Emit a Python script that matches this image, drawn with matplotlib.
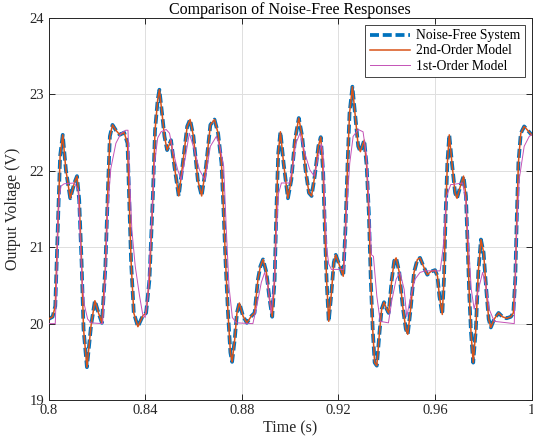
import matplotlib
matplotlib.use("Agg")
import matplotlib.pyplot as plt

# Noise-free system response (the 2nd-order model sits on top of it)
t_sys = [0.8000, 0.8017, 0.8028, 0.8038, 0.8048, 0.8059, 0.8072, 0.8090, 0.8107, 0.8118,
         0.8127, 0.8137, 0.8145, 0.8159, 0.8176, 0.8192, 0.8207, 0.8221, 0.8235, 0.8245,
         0.8254, 0.8265, 0.8279, 0.8295, 0.8313, 0.8327, 0.8336, 0.8342, 0.8353, 0.8370,
         0.8390, 0.8404, 0.8418, 0.8432, 0.8441, 0.8452, 0.8459, 0.8470, 0.8480, 0.8491,
         0.8507, 0.8521, 0.8539, 0.8556, 0.8574, 0.8586, 0.8600, 0.8618, 0.8634, 0.8652,
         0.8670, 0.8687, 0.8702, 0.8716, 0.8725, 0.8733, 0.8743, 0.8753, 0.8760, 0.8771,
         0.8780, 0.8790, 0.8805, 0.8821, 0.8840, 0.8853, 0.8867, 0.8877, 0.8888, 0.8902,
         0.8915, 0.8926, 0.8936, 0.8943, 0.8951, 0.8960, 0.8973, 0.8991, 0.9005, 0.9020,
         0.9036, 0.9050, 0.9064, 0.9078, 0.9089, 0.9102, 0.9117, 0.9127, 0.9137, 0.9144,
         0.9151, 0.9160, 0.9171, 0.9181, 0.9189, 0.9206, 0.9220, 0.9229, 0.9238, 0.9246,
         0.9258, 0.9271, 0.9282, 0.9291, 0.9307, 0.9317, 0.9326, 0.9334, 0.9342, 0.9350,
         0.9359, 0.9370, 0.9379, 0.9389, 0.9400, 0.9408, 0.9421, 0.9431, 0.9439, 0.9452,
         0.9466, 0.9479, 0.9487, 0.9499, 0.9513, 0.9527, 0.9538, 0.9552, 0.9568, 0.9582,
         0.9600, 0.9610, 0.9618, 0.9630, 0.9637, 0.9644, 0.9651, 0.9659, 0.9670, 0.9683,
         0.9691, 0.9705, 0.9718, 0.9728, 0.9735, 0.9742, 0.9749, 0.9758, 0.9769, 0.9779,
         0.9790, 0.9801, 0.9811, 0.9822, 0.9831, 0.9845, 0.9863, 0.9879, 0.9896, 0.9914,
         0.9924, 0.9932, 0.9939, 0.9945, 0.9955, 0.9969, 0.9983, 1.0000]
v_sys = [20.06, 20.09, 20.23, 21.23, 22.19, 22.47, 22.01, 21.64, 21.84, 21.93,
         21.62, 20.80, 19.93, 19.43, 19.97, 20.30, 20.14, 20.01, 20.71, 21.67,
         22.45, 22.60, 22.53, 22.47, 22.50, 22.36, 21.45, 20.80, 20.14, 19.96,
         20.10, 20.14, 20.58, 21.67, 22.53, 22.93, 23.06, 22.75, 22.45, 22.27,
         22.40, 22.06, 21.67, 22.10, 22.58, 22.67, 22.45, 21.88, 21.67, 22.06,
         22.60, 22.67, 22.49, 22.10, 21.45, 20.80, 20.14, 19.62, 19.50, 19.80,
         20.14, 20.27, 20.10, 20.01, 20.10, 20.14, 20.58, 20.75, 20.84, 20.67,
         20.32, 20.09, 20.58, 21.45, 22.23, 22.51, 22.10, 21.64, 21.88, 22.40,
         22.69, 22.45, 22.01, 21.71, 21.67, 21.93, 22.32, 22.44, 21.97, 21.23,
         20.58, 20.03, 20.40, 20.80, 20.90, 20.75, 20.62, 21.23, 22.10, 22.75,
         23.10, 22.67, 22.32, 22.25, 22.40, 22.06, 21.45, 20.58, 19.93, 19.49,
         19.45, 19.88, 20.19, 20.28, 20.19, 20.14, 20.58, 20.82, 20.86, 20.67,
         20.23, 19.93, 19.86, 20.19, 20.67, 20.84, 20.86, 20.75, 20.64, 20.68,
         20.70, 20.62, 20.36, 20.12, 20.58, 21.45, 22.10, 22.47, 22.10, 21.71,
         21.64, 21.80, 21.93, 21.67, 21.01, 20.36, 19.88, 19.49, 19.93, 20.67,
         21.10, 20.93, 20.49, 20.06, 19.95, 20.06, 20.14, 20.09, 20.07, 20.09,
         20.14, 20.58, 21.45, 22.10, 22.49, 22.58, 22.53, 22.47]

# 2nd-order model: indistinguishable from the system at this scale
t_2nd = t_sys
v_2nd = v_sys

# 1st-order model
t_1st = [0.8000, 0.8028, 0.8034, 0.8039, 0.8045, 0.8052, 0.8065, 0.8107, 0.8123, 0.8130,
         0.8138, 0.8148, 0.8162, 0.8176, 0.8224, 0.8235, 0.8245, 0.8258, 0.8279, 0.8300,
         0.8320, 0.8329, 0.8336, 0.8345, 0.8359, 0.8377, 0.8390, 0.8400, 0.8411, 0.8425,
         0.8439, 0.8452, 0.8466, 0.8487, 0.8501, 0.8514, 0.8535, 0.8549, 0.8565, 0.8583,
         0.8604, 0.8625, 0.8648, 0.8670, 0.8695, 0.8709, 0.8725, 0.8736, 0.8747, 0.8761,
         0.8778, 0.8846, 0.8860, 0.8881, 0.8895, 0.8908, 0.8922, 0.8936, 0.8943, 0.8952,
         0.8964, 0.8998, 0.9013, 0.9023, 0.9041, 0.9061, 0.9082, 0.9100, 0.9117, 0.9130,
         0.9137, 0.9144, 0.9151, 0.9160, 0.9171, 0.9223, 0.9233, 0.9247, 0.9261, 0.9282,
         0.9302, 0.9316, 0.9326, 0.9337, 0.9345, 0.9359, 0.9373, 0.9407, 0.9421, 0.9439,
         0.9455, 0.9472, 0.9483, 0.9499, 0.9517, 0.9538, 0.9559, 0.9621, 0.9634, 0.9648,
         0.9665, 0.9673, 0.9714, 0.9728, 0.9739, 0.9750, 0.9762, 0.9776, 0.9797, 0.9811,
         0.9824, 0.9845, 0.9928, 0.9935, 0.9948, 0.9969, 0.9990, 1.0000]
v_1st = [20.00, 20.00, 20.58, 21.36, 21.67, 21.80, 21.83, 21.84, 21.75, 21.20,
         20.60, 20.25, 20.06, 20.01, 20.00, 20.60, 21.50, 22.03, 22.36, 22.49,
         22.53, 22.53, 21.88, 21.23, 20.75, 20.36, 20.12, 20.08, 20.36, 21.23,
         22.10, 22.43, 22.51, 22.54, 22.49, 22.27, 22.01, 21.88, 22.15, 22.49,
         22.27, 22.01, 21.88, 22.32, 22.45, 22.32, 22.06, 21.23, 20.49, 20.08,
         20.01, 20.00, 20.20, 20.54, 20.67, 20.49, 20.14, 20.60, 21.20, 21.70,
         21.84, 21.84, 22.10, 22.35, 22.49, 22.23, 22.01, 21.93, 22.19, 22.35,
         22.20, 21.50, 21.00, 20.78, 20.71, 20.71, 21.45, 22.10, 22.45, 22.54,
         22.51, 22.20, 21.60, 20.90, 20.88, 20.36, 20.03, 20.01, 20.30, 20.58,
         20.67, 20.45, 20.09, 20.35, 20.58, 20.67, 20.69, 20.69, 21.00, 21.67,
         21.82, 21.82, 21.84, 21.60, 21.00, 20.45, 20.19, 20.40, 20.67, 20.49,
         20.19, 20.03, 20.00, 21.00, 21.88, 22.32, 22.45, 22.47]

x_ticks = [0.8, 0.84, 0.88, 0.92, 0.96, 1.0]
x_tick_labels = ["0.8", "0.84", "0.88", "0.92", "0.96", "1"]
y_ticks = [19, 20, 21, 22, 23, 24]

plt.rcParams["font.family"] = ["Liberation Serif", "DejaVu Serif"]

fig = plt.figure(figsize=(5.33, 4.47), dpi=100)
ax = fig.add_axes([0.091, 0.105, 0.9065, 0.855])

ax.plot(t_sys, v_sys, color="#0072BD", linestyle="--", dashes=(2.4, 1.0),
        linewidth=2.7, label="Noise-Free System", zorder=2)
ax.plot(t_2nd, v_2nd, color="#D95319", linewidth=1.1,
        label="2nd-Order Model", zorder=3)
ax.plot(t_1st, v_1st, color="#C452B6", linewidth=0.7,
        label="1st-Order Model", zorder=4)

ax.set_xlim(0.8, 1.0)
ax.set_ylim(19, 24)
ax.set_xticks(x_ticks)
ax.set_xticklabels(x_tick_labels)
ax.set_yticks(y_ticks)

ax.grid(True, color="#dfdfdf", linewidth=0.7)
ax.set_axisbelow(True)
for s in ax.spines.values():
    s.set_color("#262626")
    s.set_linewidth(0.7)
ax.tick_params(direction="in", length=4, width=0.7, colors="#262626",
               top=True, right=True, labelsize=10.5, pad=3)

ax.set_title("Comparison of Noise-Free Responses", fontsize=11.5, pad=3, color="#000000")
ax.set_xlabel("Time (s)", fontsize=11.5, labelpad=2, color="#262626")
ax.set_ylabel("Output Voltage (V)", fontsize=11.5, labelpad=6, color="#262626")

leg = ax.legend(loc="upper right", fontsize=9.8, frameon=True, fancybox=False,
                framealpha=1, edgecolor="#262626", borderaxespad=0.5,
                handlelength=3.0, handletextpad=0.4, labelspacing=0.15,
                borderpad=0.35)
leg.get_frame().set_linewidth(0.6)

fig.savefig("out.png", dpi=100)
